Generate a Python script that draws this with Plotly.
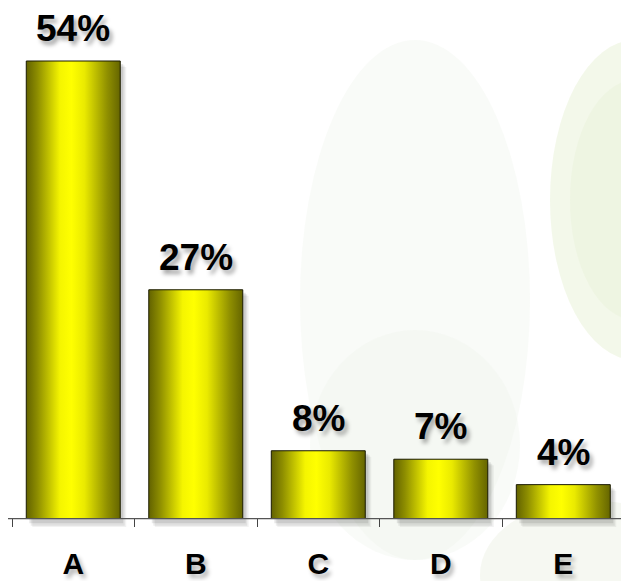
import plotly.graph_objects as go

# Survey answer shares per option
categories = ["A", "B", "C", "D", "E"]
shares = [54, 27, 8, 7, 4]
share_labels = ["54%", "27%", "8%", "7%", "4%"]

W, H = 621, 581
ML, MR, MT, MB = 12, 0, 0, 54
PLOT_W = W - ML - MR
PLOT_H = H - MT - MB
X_RANGE = [-0.5, 4.471]
Y_RANGE = [-1.0, 61.2]
UX = (X_RANGE[1] - X_RANGE[0]) / PLOT_W   # data units per pixel (x)
UY = (Y_RANGE[1] - Y_RANGE[0]) / PLOT_H   # data units per pixel (y)
BAR_W = 0.767

FONT = "Liberation Sans, Arial, sans-serif"
GOLD_SCALE = [
    [0.0, "#626200"],
    [0.12, "#8e8e00"],
    [0.36, "#f5f500"],
    [0.48, "#ffff00"],
    [0.62, "#eaea00"],
    [0.86, "#909000"],
    [1.0, "#656500"],
]

fig = go.Figure()


def rect(x0, x1, y0, y1):
    return [x0, x1, x1, x0, x0], [y0, y0, y1, y1, y0]


# soft drop shadows behind each bar
for i, v in enumerate(shares):
    for off, a in [(6, 0.05), (4.5, 0.07), (3, 0.09)]:
        xs, ys = rect(i - BAR_W / 2 + off * UX, i + BAR_W / 2 + off * UX,
                      -off * 1.6 * UY, v - off * UY)
        fig.add_trace(go.Scatter(x=xs, y=ys, mode="lines", fill="toself",
                                 fillcolor=f"rgba(0,0,0,{a})",
                                 line=dict(width=0), hoverinfo="skip",
                                 showlegend=False))

# gradient-filled bars
for i, v in enumerate(shares):
    xs, ys = rect(i - BAR_W / 2, i + BAR_W / 2, 0, v)
    fig.add_trace(go.Scatter(
        x=xs, y=ys, mode="lines", fill="toself",
        fillgradient=dict(type="horizontal", colorscale=GOLD_SCALE),
        line=dict(color="#1a1a00", width=1),
        hoverinfo="skip", showlegend=False, name=categories[i]))

# value labels above the bars
for i, (v, t) in enumerate(zip(shares, share_labels)):
    fig.add_annotation(x=i, y=v, text=t, showarrow=False, xanchor="center",
                       yanchor="bottom", yshift=10,
                       font=dict(family=FONT, size=37, color="black",
                                 weight="bold",
                                 shadow="3px 4px 4px rgba(0,0,0,0.35)"))

# baseline, slightly extended to the left
fig.add_shape(type="line", xref="paper", yref="y", x0=-4 / PLOT_W, x1=1,
              y0=0, y1=0, line=dict(color="#555555", width=1.2), layer="above")


# faint pale-green backdrop shapes
def px_box(x0, y0, x1, y1):
    return dict(x0=(x0 - ML) / PLOT_W, x1=(x1 - ML) / PLOT_W,
                y0=(H - MB - y1) / PLOT_H, y1=(H - MB - y0) / PLOT_H)


backdrop = [
    ((300, 40, 530, 560), "#f2f7f0", 0.45),
    ((310, 330, 520, 560), "#eef4ea", 0.35),
    ((550, 40, 720, 360), "#eaf2d8", 0.55),
    ((570, 80, 700, 320), "#e4edcf", 0.3),
    ((480, 500, 700, 650), "#eef3e8", 0.55),
]
for (x0, y0, x1, y1), col, op in backdrop:
    fig.add_shape(type="circle", xref="paper", yref="paper", layer="below",
                  fillcolor=col, opacity=op, line=dict(width=0),
                  **px_box(x0, y0, x1, y1))

fig.update_layout(
    width=W, height=H,
    margin=dict(l=ML, r=MR, t=MT, b=MB, pad=0, autoexpand=False),
    paper_bgcolor="white", plot_bgcolor="rgba(0,0,0,0)",
    showlegend=False,
    xaxis=dict(range=X_RANGE, tickvals=list(range(len(categories))),
               ticktext=categories, ticks="", showgrid=False, zeroline=False,
               showline=False, fixedrange=True, ticklabelstandoff=16,
               automargin=False,
               tickfont=dict(family=FONT, size=30, color="black",
                             weight="bold",
                             shadow="3px 4px 4px rgba(0,0,0,0.3)"),
               minor=dict(tick0=-0.5, dtick=1, ticks="inside", ticklen=9,
                          tickcolor="#444444", tickwidth=1, showgrid=False)),
    yaxis=dict(range=Y_RANGE, visible=False, fixedrange=True,
               automargin=False),
)

fig.write_html("out.html")
